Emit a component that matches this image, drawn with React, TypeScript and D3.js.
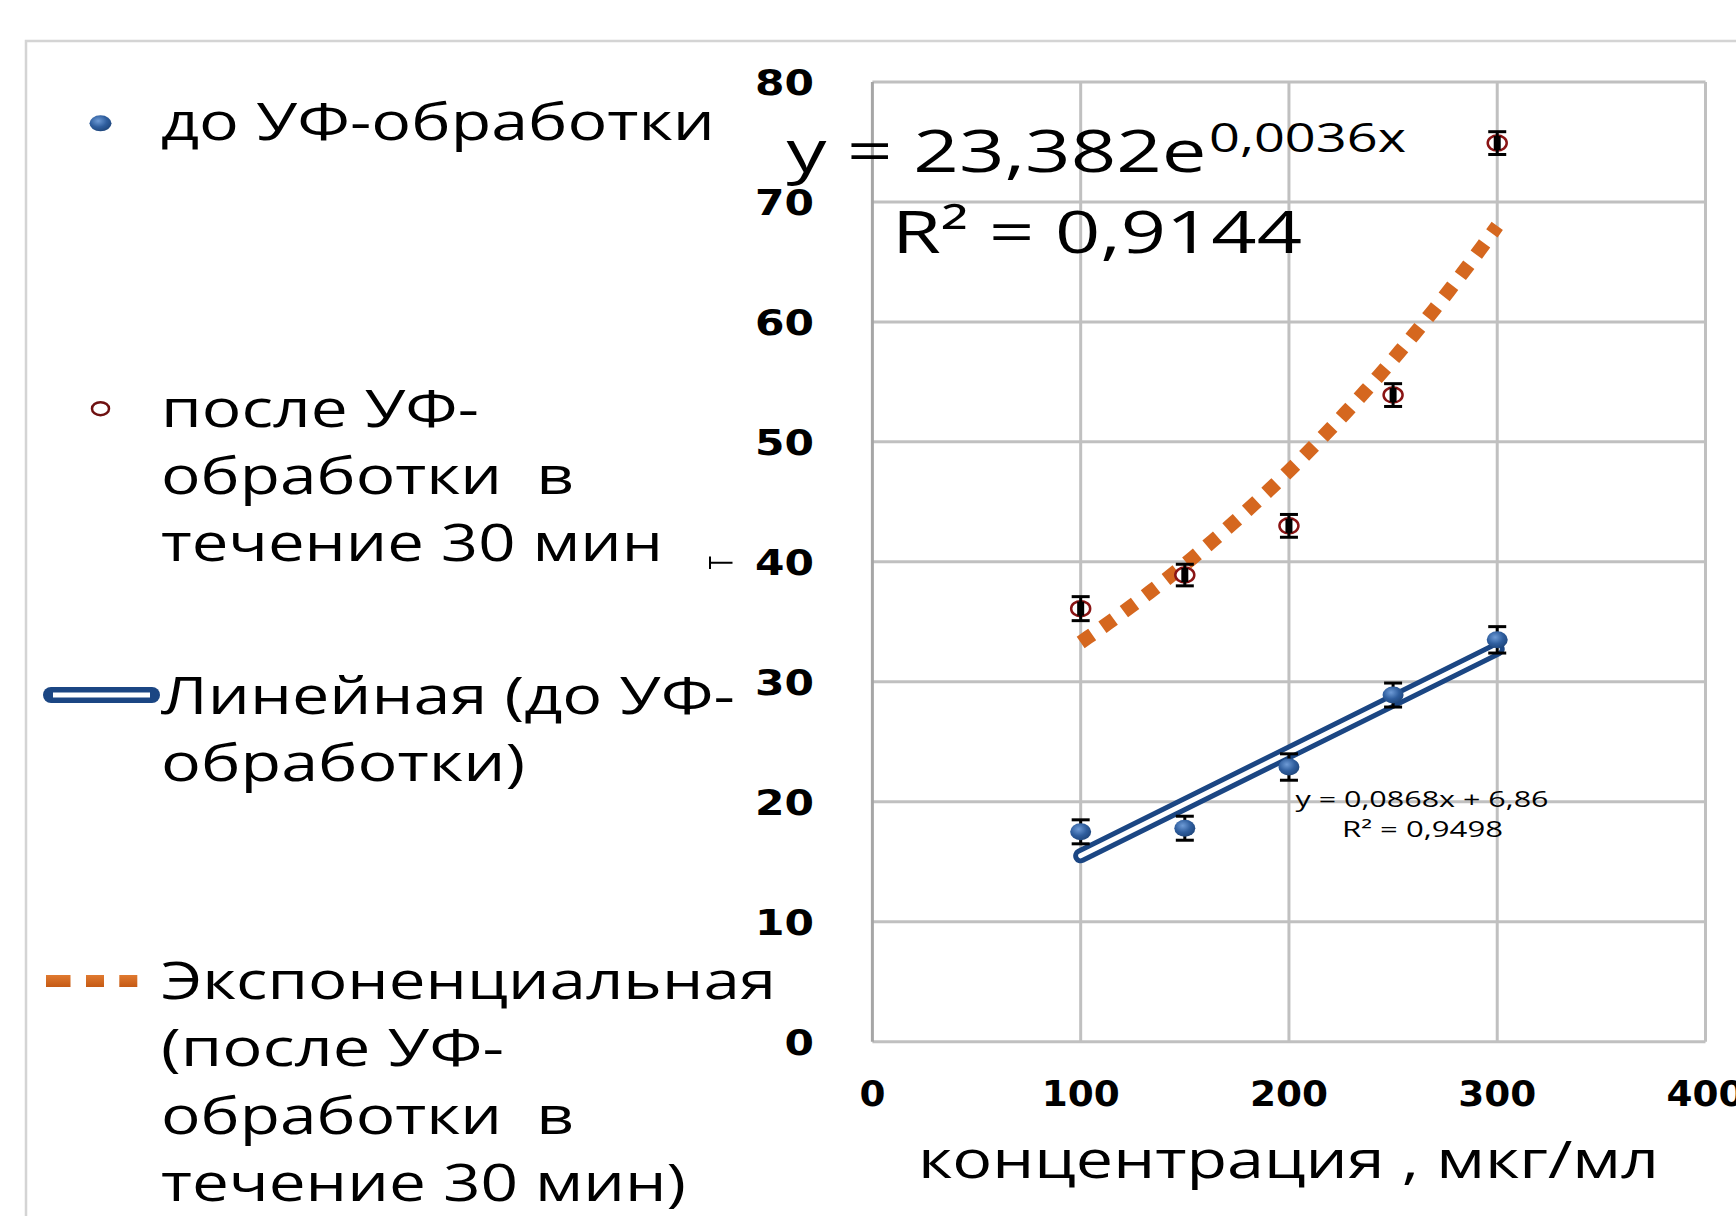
import React from "react";
import * as d3 from "d3";

// concentration, mkg/ml
const concentrations = [100, 150, 200, 250, 300];
// before UV treatment
const beforeUV = [17.5, 17.8, 22.9, 28.9, 33.5];
const beforeUVErr = [1.0, 1.0, 1.1, 1.0, 1.1];
// after UV treatment for 30 min
const afterUV = [36.1, 38.9, 43.0, 53.9, 74.9];
const afterUVErr = [1.0, 0.9, 0.95, 0.95, 0.95];

const xTicks = [0, 100, 200, 300, 400];
const yTicks = [0, 10, 20, 30, 40, 50, 60, 70, 80];

const xTitle = "концентрация , мкг/мл";
const linEq = "y = 0,0868x + 6,86";
const linR2 = "R² = 0,9498";
const expEqMain = "y = 23,382e";
const expEqSup = "0,0036x";
const expR2 = "R² = 0,9144";

// legend lines: [text, baseline, width]
const legendBefore = [["до УФ-обработки", 139.7, 554]];
const legendAfter = [
  ["после УФ-", 426.5, 318],
  ["обработки  в", 493.7, 413],
  ["течение 30 мин", 560.6, 502],
];
const legendLin = [
  ["Линейная (до УФ-", 714, 574],
  ["обработки)", 780.7, 364],
];
const legendExp = [
  ["Экспоненциальная", 998.8, 615],
  ["(после УФ-", 1065.6, 343],
  ["обработки  в", 1134.4, 413],
  ["течение 30 мин)", 1201, 525],
];

const W = 1736;
const H = 1216;
const SANS = "'Open Sans', 'Noto Sans', sans-serif";
const BOLD = "'DejaVu Sans', Verdana, sans-serif";

const Txt = ({ x, y, w, size, anchor = "start", weight = "normal", family = SANS, children }: any) => (
  <text
    x={x}
    y={y}
    fontSize={size}
    fontFamily={family}
    fontWeight={weight}
    textAnchor={anchor}
    textLength={w}
    lengthAdjust="spacingAndGlyphs"
    fill="#000"
    style={{ whiteSpace: "pre" }}
  >
    {children}
  </text>
);

const App = () => {
  const x = d3.scaleLinear().domain([0, 400]).range([872.4, 1705.5]);
  const y = d3.scaleLinear().domain([0, 80]).range([1041.8, 81.9]);

  // linear trend (least squares) for "before"
  const mx = d3.mean(concentrations)!;
  const myB = d3.mean(beforeUV)!;
  const sxx = d3.sum(concentrations, (c) => (c - mx) ** 2);
  const slope = d3.sum(concentrations, (c, i) => (c - mx) * (beforeUV[i] - myB)) / sxx;
  const icpt = myB - slope * mx;

  // exponential trend (least squares on ln y) for "after"
  const lnA = afterUV.map((v) => Math.log(v));
  const mlA = d3.mean(lnA)!;
  const eb = d3.sum(concentrations, (c, i) => (c - mx) * (lnA[i] - mlA)) / sxx;
  const ea = Math.exp(mlA - eb * mx);

  const x0 = d3.min(concentrations)!;
  const x1 = d3.max(concentrations)!;
  const linPath = d3.line()([
    [x(x0), y(slope * x0 + icpt)],
    [x(x1), y(slope * x1 + icpt)],
  ]);
  const expPts = d3.range(0, 61).map((k) => {
    const c = x0 + ((x1 - x0) * k) / 60;
    return [x(c), y(ea * Math.exp(eb * c))] as [number, number];
  });
  const expPath = d3.line().curve(d3.curveMonotoneX)(expPts);

  const grid = "#c0c0c0";

  return (
    <svg
      width={W}
      height={H}
      viewBox={`0 0 ${W} ${H}`}
      style={{ position: "absolute", left: 0, top: 0, display: "block", background: "#fff" }}
    >
      <defs>
        <radialGradient id="blueDot" cx="40%" cy="35%" r="70%">
          <stop offset="0%" stopColor="#6e9bd6" />
          <stop offset="55%" stopColor="#2f5e9e" />
          <stop offset="100%" stopColor="#1d4479" />
        </radialGradient>
        <linearGradient id="orangeSq" x1="0" y1="0" x2="0" y2="1">
          <stop offset="0%" stopColor="#e07a30" />
          <stop offset="100%" stopColor="#c55a14" />
        </linearGradient>
      </defs>

      {/* outer frame */}
      <path d={`M26,${H} L26,41 L${W},41`} fill="none" stroke="#d4d4d4" strokeWidth={2.5} />

      {/* grid */}
      {yTicks.map((t) => (
        <line key={"gy" + t} x1={x(0)} x2={x(400)} y1={y(t)} y2={y(t)} stroke={grid} strokeWidth={3} />
      ))}
      {xTicks.map((t) => (
        <line
          key={"gx" + t}
          x1={x(t)}
          x2={x(t)}
          y1={y(0)}
          y2={y(80)}
          stroke={t === 0 ? "#a6a6a6" : grid}
          strokeWidth={3}
        />
      ))}

      {/* y tick labels */}
      {yTicks.map((t) => (
        <Txt key={"ly" + t} x={814} y={y(t) + 13} w={String(t).length * 29.5} size={36} anchor="end" weight="bold" family={BOLD}>
          {t}
        </Txt>
      ))}
      {/* x tick labels */}
      {xTicks.map((t) => (
        <Txt key={"lx" + t} x={x(t)} y={1106} w={String(t).length * 26} size={36} anchor="middle" weight="bold" family={BOLD}>
          {t}
        </Txt>
      ))}

      {/* stray tick glyph */}
      <path d="M710,556.5 L710,569 M710,562.7 L732.5,562.7" stroke="#000" strokeWidth={2} fill="none" />

      {/* trendlines */}
      <path d={linPath!} fill="none" stroke="#1b4683" strokeWidth={15} strokeLinecap="round" />
      <path d={linPath!} fill="none" stroke="#fff" strokeWidth={5} strokeLinecap="round" />
      <path d={expPath!} fill="none" stroke="#d5671f" strokeWidth={14} strokeDasharray="14 12.5" />

      {/* before UV: error bars then markers */}
      {concentrations.map((c, i) => (
        <g key={"b" + i}>
          <line x1={x(c)} x2={x(c)} y1={y(beforeUV[i] - beforeUVErr[i])} y2={y(beforeUV[i] + beforeUVErr[i])} stroke="#000" strokeWidth={3} />
          <line x1={x(c) - 9} x2={x(c) + 9} y1={y(beforeUV[i] - beforeUVErr[i])} y2={y(beforeUV[i] - beforeUVErr[i])} stroke="#000" strokeWidth={3} />
          <line x1={x(c) - 9} x2={x(c) + 9} y1={y(beforeUV[i] + beforeUVErr[i])} y2={y(beforeUV[i] + beforeUVErr[i])} stroke="#000" strokeWidth={3} />
          <ellipse cx={x(c)} cy={y(beforeUV[i])} rx={10.5} ry={8.5} fill="url(#blueDot)" />
        </g>
      ))}

      {/* after UV: markers then error bars */}
      {concentrations.map((c, i) => (
        <g key={"a" + i}>
          <ellipse cx={x(c)} cy={y(afterUV[i])} rx={9.5} ry={7.5} fill="#fff" stroke="#8a1414" strokeWidth={2.5} />
          <rect x={x(c) - 3.5} y={y(afterUV[i]) - 7} width={7} height={14} fill="#000" />
          <line x1={x(c)} x2={x(c)} y1={y(afterUV[i] - afterUVErr[i])} y2={y(afterUV[i] + afterUVErr[i])} stroke="#000" strokeWidth={3} />
          <line x1={x(c) - 9} x2={x(c) + 9} y1={y(afterUV[i] - afterUVErr[i])} y2={y(afterUV[i] - afterUVErr[i])} stroke="#000" strokeWidth={3} />
          <line x1={x(c) - 9} x2={x(c) + 9} y1={y(afterUV[i] + afterUVErr[i])} y2={y(afterUV[i] + afterUVErr[i])} stroke="#000" strokeWidth={3} />
        </g>
      ))}

      {/* trendline equations */}
      <Txt x={786.5} y={171.5} w={420} size={58}>{expEqMain}</Txt>
      <Txt x={1209} y={152} w={197} size={40}>{expEqSup}</Txt>
      <Txt x={892} y={253} w={410} size={58}>{expR2}</Txt>
      <Txt x={1295.5} y={806.7} w={253} size={21}>{linEq}</Txt>
      <Txt x={1342} y={837} w={161} size={21}>{linR2}</Txt>

      {/* axis title */}
      <Txt x={918} y={1177.6} w={741} size={51}>{xTitle}</Txt>

      {/* legend */}
      <ellipse cx={100.5} cy={123.3} rx={11} ry={8} fill="url(#blueDot)" />
      <ellipse cx={100.5} cy={408.7} rx={8.5} ry={6.5} fill="#fff" stroke="#6e1010" strokeWidth={2.5} />
      <line x1={51} x2={152} y1={695} y2={695} stroke="#1b4683" strokeWidth={16} strokeLinecap="round" />
      <line x1={53} x2={150} y1={695} y2={695} stroke="#fff" strokeWidth={5} />
      <rect x={46} y={975} width={24.5} height={12} fill="url(#orangeSq)" />
      <rect x={86} y={975} width={18} height={12} fill="url(#orangeSq)" />
      <rect x={119.3} y={975} width={18} height={12} fill="url(#orangeSq)" />
      {[...legendBefore, ...legendAfter, ...legendLin, ...legendExp].map(([t, by, w], i) => (
        <Txt key={"lg" + i} x={161} y={by} w={w} size={51}>
          {t}
        </Txt>
      ))}
    </svg>
  );
};

export default App;
